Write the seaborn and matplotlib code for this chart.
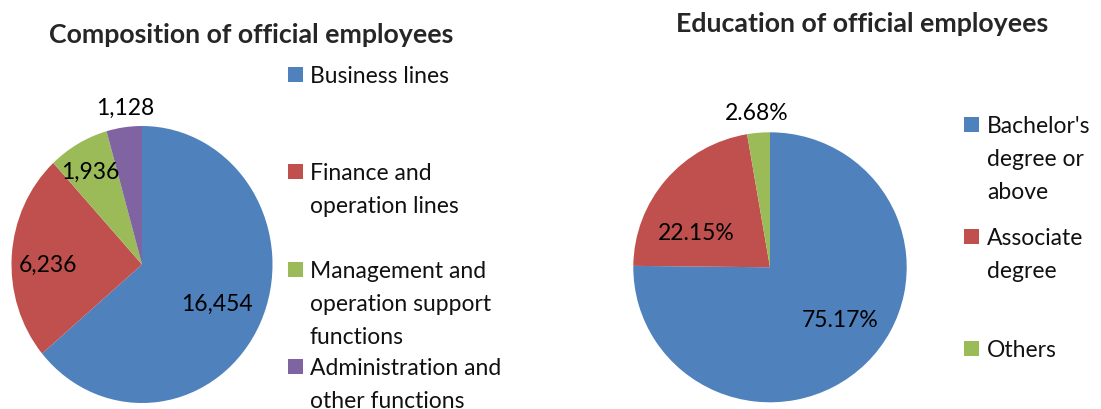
import matplotlib
matplotlib.use("Agg")
import matplotlib.pyplot as plt
import seaborn as sns
import numpy as np
from matplotlib.patches import Rectangle

# composition of official employees
comp_labels = ["Business lines", "Finance and\noperation lines",
               "Management and\noperation support\nfunctions",
               "Administration and\nother functions"]
comp_values = [16454, 6236, 1936, 1128]

# education of official employees (%)
edu_labels = ["Bachelor's\ndegree or\nabove", "Associate\ndegree", "Others"]
edu_values = [75.17, 22.15, 2.68]

sns.set_style("white")
plt.rcParams['font.family'] = ['Lato', 'DejaVu Sans']

colors = sns.color_palette(["#4F81BD", "#C0504D", "#9BBB59", "#8064A2"])

W, H = 1101, 410
fig = plt.figure(figsize=(W / 100, H / 100), dpi=100)

FS = 16.5
TFS = 19.3


def px_axes(x0, x1, y0, y1):
    # pixel box (from top-left) -> figure axes
    return fig.add_axes([x0 / W, 1 - y1 / H, (x1 - x0) / W, (y1 - y0) / H])


def draw_pie(ax, values, fmt, dists, shifts):
    wedges, _ = ax.pie(values, colors=colors[:len(values)], startangle=90,
                       counterclock=False, radius=1,
                       wedgeprops=dict(linewidth=0))
    for w, v, d, s in zip(wedges, values, dists, shifts):
        ang = np.deg2rad((w.theta1 + w.theta2) / 2 + s)
        ax.text(d * np.cos(ang), d * np.sin(ang), fmt(v), ha='center',
                va='center', fontsize=FS, color='black')
    ax.set_xlim(-1, 1)
    ax.set_ylim(-1, 1)
    ax.set_aspect('auto')
    ax.axis('off')


def draw_legend(labels, x_marker, x_text, base0, step, line_h=33):
    for i, lab in enumerate(labels):
        base = base0 + i * step
        fig.patches.append(Rectangle((x_marker / W, 1 - base / H), 15 / W, 15 / H,
                                     transform=fig.transFigure,
                                     facecolor=colors[i], edgecolor='none'))
        for j, line in enumerate(lab.split("\n")):
            fig.text(x_text / W, 1 - (base + j * line_h) / H, line,
                     fontsize=FS, va='baseline', ha='left', color='#111111')


ax1 = px_axes(11.5, 272.5, 127, 404)
draw_pie(ax1, comp_values, lambda v: f"{v:,}",
         [0.64, 0.72, 0.78, 1.14], [-1, 3.5, 1.5, -1.5])

ax2 = px_axes(633.3, 906.7, 133.3, 403.3)
draw_pie(ax2, edu_values, lambda v: f"{v:.2f}%",
         [0.64, 0.60, 1.15], [8.5, 14.7, 0])

fig.text(251.5 / W, 1 - 43 / H, "Composition of official employees",
         fontsize=TFS, fontweight='bold', ha='center', va='baseline')
fig.text(862 / W, 1 - 31.5 / H, "Education of official employees",
         fontsize=TFS, fontweight='bold', ha='center', va='baseline')

draw_legend(comp_labels, 288, 310, 83, 97.3)
draw_legend(edu_labels, 963.5, 987, 133.3, 111.7)

fig.savefig("out.png", dpi=100, facecolor='white')
